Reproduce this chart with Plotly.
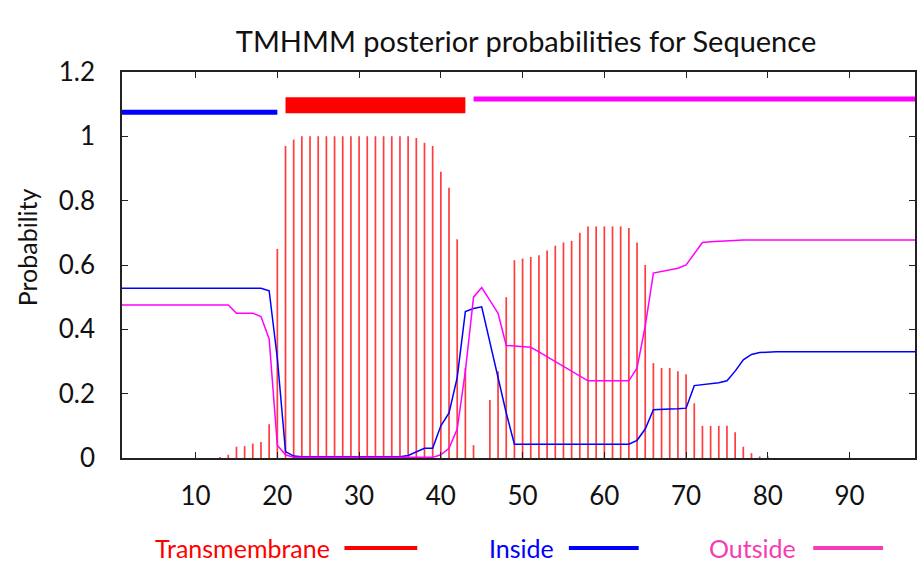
import plotly.graph_objects as go

# Residue numbering and per-residue posterior probabilities
residues = list(range(1, 99))

transmembrane = (
    [0.0] * 12
    + [0.003, 0.01, 0.035, 0.037, 0.045, 0.05, 0.105, 0.65, 0.97, 0.99]
    + [1.0] * 14
    + [0.995, 0.98, 0.97, 0.89, 0.84, 0.68, 0.28, 0.04, 0.0, 0.18,
       0.27, 0.50, 0.615, 0.62, 0.625, 0.63, 0.645, 0.66, 0.67, 0.675,
       0.70, 0.72, 0.72, 0.72, 0.72, 0.72, 0.715, 0.67, 0.60, 0.295,
       0.28, 0.28, 0.27, 0.26, 0.17, 0.10, 0.10, 0.10, 0.10, 0.08,
       0.035, 0.015, 0.005, 0.005]
    + [0.0] * 18
)

inside = (
    [0.528] * 18
    + [0.52, 0.31, 0.02, 0.006]
    + [0.004] * 13
    + [0.008, 0.02, 0.03, 0.03, 0.10, 0.14, 0.25, 0.455, 0.465, 0.47,
       0.36, 0.26, 0.14]
    + [0.043] * 15
    + [0.055, 0.09, 0.15, 0.15, 0.152, 0.153, 0.155, 0.225, 0.228, 0.231,
       0.234, 0.24, 0.27, 0.305, 0.322, 0.328]
    + [0.33] * 19
)

outside = (
    [0.476] * 14
    + [0.45, 0.45, 0.45, 0.44, 0.37, 0.04, 0.01]
    + [0.002] * 18
    + [0.01, 0.03, 0.09, 0.27, 0.50, 0.53, 0.49, 0.45, 0.35, 0.348,
       0.346, 0.344, 0.33, 0.315, 0.30, 0.285, 0.27, 0.255, 0.24]
    + [0.24] * 5
    + [0.28, 0.41, 0.575, 0.58, 0.585, 0.59, 0.60, 0.635, 0.67, 0.672,
       0.674, 0.676]
    + [0.678] * 23
)

# Predicted topology: (label, first residue, last residue)
topology = [("inside", 1, 20), ("TMhelix", 21, 43), ("outside", 44, 98)]
topology_level = {"inside": 1.075, "TMhelix": 1.097, "outside": 1.116}

RED = "#ff0000"
BLUE = "#0000ff"
MAGENTA = "#ff00ff"
topology_style = {
    "inside": (BLUE, 5),
    "TMhelix": (RED, 16),
    "outside": (MAGENTA, 5),
}

FONT = "Lato, 'Open Sans', sans-serif"
TEXT = "#111111"
W, H = 921, 575
ML, MR, MT, MB = 122, 4, 72, 117
PW, PH = W - ML - MR, H - MT - MB


def px_to_paper(px, py):
    return (px - ML) / PW, (H - MB - py) / PH


# Impulses: one vertical stroke per residue, from 0 up to its probability
imp_x, imp_y = [], []
for r, p in zip(residues, transmembrane):
    imp_x += [r, r, None]
    imp_y += [0, p, None]

fig = go.Figure()

fig.add_trace(go.Scatter(
    x=imp_x, y=imp_y, mode="lines",
    line=dict(color="rgba(255,40,40,0.9)", width=1.7),
    name="Transmembrane", showlegend=False, connectgaps=False,
))
fig.add_trace(go.Scatter(
    x=residues, y=inside, mode="lines",
    line=dict(color=BLUE, width=1.5), name="Inside", showlegend=False,
))
fig.add_trace(go.Scatter(
    x=residues, y=outside, mode="lines",
    line=dict(color=MAGENTA, width=1.5), name="Outside", showlegend=False,
))

for label, start, end in topology:
    color, lw = topology_style[label]
    lvl = topology_level[label]
    fig.add_trace(go.Scatter(
        x=[start, end], y=[lvl, lvl], mode="lines",
        line=dict(color=color, width=lw), showlegend=False, hoverinfo="skip",
    ))

# Key below the plot: text (right edge given) followed by a line sample
legend_items = [
    ("Transmembrane", RED, 333, 345, 418),
    ("Inside", BLUE, 557, 570, 640),
    ("Outside", "#f53cb4", 800, 815, 885),
]
legend_y = 548
for text, color, tx, lx0, lx1 in legend_items:
    ax, ay = px_to_paper(tx, legend_y)
    fig.add_annotation(
        x=ax, y=ay, xref="paper", yref="paper", text=text, showarrow=False,
        xanchor="right", yanchor="middle",
        font=dict(family=FONT, size=25, color=color),
    )
    x0, y0 = px_to_paper(lx0, legend_y)
    x1, _ = px_to_paper(lx1, legend_y)
    fig.add_shape(
        type="line", xref="paper", yref="paper", x0=x0, x1=x1, y0=y0, y1=y0,
        line=dict(color=color, width=4),
    )

# Y-axis caption
yx, yy = px_to_paper(27, 247)
fig.add_annotation(
    x=yx, y=yy, xref="paper", yref="paper", text="Probability",
    showarrow=False, textangle=-90, xanchor="center", yanchor="middle",
    font=dict(family=FONT, size=25, color=TEXT),
)

fig.update_layout(
    width=W, height=H,
    margin=dict(l=ML, r=MR, t=MT, b=MB),
    paper_bgcolor="white", plot_bgcolor="white",
    title=dict(
        text="TMHMM posterior probabilities for Sequence",
        x=526 / W, xref="container", xanchor="center",
        y=1 - 42 / H, yref="container", yanchor="middle",
        font=dict(family=FONT, size=29, color=TEXT),
    ),
    font=dict(family=FONT, size=26, color=TEXT),
)

axis_common = dict(
    showline=True, linecolor="#222222", linewidth=1.5, mirror="ticks",
    ticks="inside", ticklen=6, tickwidth=1, tickcolor="#222222",
    showgrid=False, zeroline=False,
    tickfont=dict(family=FONT, size=26, color=TEXT),
)

fig.update_xaxes(
    range=[1, 98], tickvals=[10, 20, 30, 40, 50, 60, 70, 80, 90],
    ticklabelstandoff=14, **axis_common,
)
fig.update_yaxes(
    range=[0, 1.2], tickvals=[0, 0.2, 0.4, 0.6, 0.8, 1.0, 1.2],
    ticktext=["0", "0.2", "0.4", "0.6", "0.8", "1", "1.2"],
    ticklabelstandoff=20,
    **axis_common,
)

fig.write_html("out.html")
